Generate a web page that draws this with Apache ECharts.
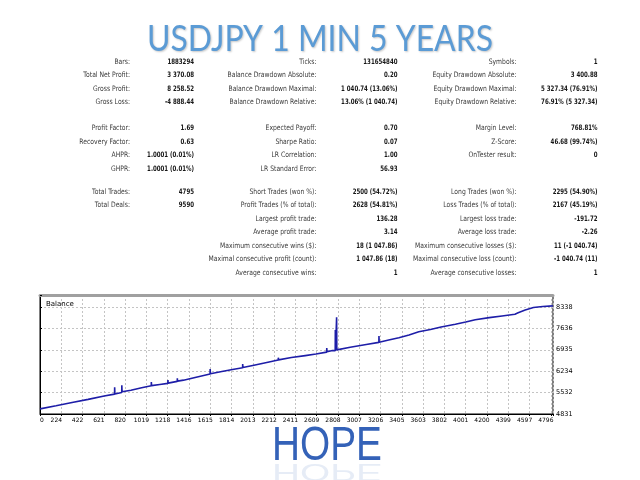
<!DOCTYPE html>
<html>
<head>
<meta charset="utf-8">
<script src="https://cdn.jsdelivr.net/npm/echarts@6/dist/echarts.min.js"></script>
<style>
  html, body { margin: 0; padding: 0; background: #fff; }
  #main { width: 640px; height: 480px; }
</style>
</head>
<body>
<div id="main"></div>
<script>
// 数据：交易序号与余额
var tradeNo = [0, 150, 300, 450, 600, 697, 698, 700, 764, 765, 767, 850, 950,
    1040, 1041, 1043, 1120, 1195, 1196, 1198, 1283, 1284, 1286, 1342, 1343, 1345,
    1450, 1590, 1591, 1593, 1700, 1800, 1894, 1895, 1897, 2000, 2120, 2135,
    2227, 2228, 2230, 2350, 2480, 2580, 2680, 2681, 2683, 2734, 2745,
    2760, 2761, 2763, 2772, 2773, 2775, 2900, 3050, 3168, 3169, 3171,
    3260, 3355, 3450, 3541, 3650, 3750, 3883, 3980, 4069, 4200, 4320,
    4440, 4470, 4536, 4613, 4700, 4795];
var balance = [5000, 5100, 5205, 5310, 5420, 5482, 5706, 5488, 5535, 5772, 5560, 5610, 5690,
    5755, 5880, 5762, 5800, 5835, 5945, 5842, 5900, 6000, 5908, 5940, 5990, 5945,
    6030, 6140, 6306, 6150, 6225, 6290, 6345, 6470, 6352, 6430, 6520, 6560,
    6600, 6676, 6606, 6680, 6745, 6795, 6858, 6994, 6868, 6912, 6905,
    6908, 7584, 6915, 6922, 8000, 6932, 7020, 7110, 7178, 7388, 7184,
    7255, 7330, 7420, 7525, 7600, 7680, 7770, 7845, 7920, 7990, 8045,
    8100, 8150, 8240, 8320, 8355, 8375];

// 坐标轴刻度
var xTickLabels = ['0', '224', '422', '621', '820', '1019', '1218', '1416', '1615', '1814',
    '2013', '2212', '2411', '2609', '2808', '3007', '3206', '3405', '3603', '3802',
    '4001', '4200', '4399', '4597', '4796'];
var xStep = 199;
var yTickLabels = ['4831', '5532', '6234', '6935', '7636', '8338'];
var yMin = 4831;
var yStep = 701.4;

// 报告表格 [行, 标签, 数值]
var col1 = [
    [0, 'Bars:', '1883294'],
    [1, 'Total Net Profit:', '3 370.08'],
    [2, 'Gross Profit:', '8 258.52'],
    [3, 'Gross Loss:', '-4 888.44'],
    [4, 'Profit Factor:', '1.69'],
    [5, 'Recovery Factor:', '0.63'],
    [6, 'AHPR:', '1.0001 (0.01%)'],
    [7, 'GHPR:', '1.0001 (0.01%)'],
    [8, 'Total Trades:', '4795'],
    [9, 'Total Deals:', '9590']
];
var col2 = [
    [0, 'Ticks:', '131654840'],
    [1, 'Balance Drawdown Absolute:', '0.20'],
    [2, 'Balance Drawdown Maximal:', '1 040.74 (13.06%)'],
    [3, 'Balance Drawdown Relative:', '13.06% (1 040.74)'],
    [4, 'Expected Payoff:', '0.70'],
    [5, 'Sharpe Ratio:', '0.07'],
    [6, 'LR Correlation:', '1.00'],
    [7, 'LR Standard Error:', '56.93'],
    [8, 'Short Trades (won %):', '2500 (54.72%)'],
    [9, 'Profit Trades (% of total):', '2628 (54.81%)'],
    [10, 'Largest profit trade:', '136.28'],
    [11, 'Average profit trade:', '3.14'],
    [12, 'Maximum consecutive wins ($):', '18 (1 047.86)'],
    [13, 'Maximal consecutive profit (count):', '1 047.86 (18)'],
    [14, 'Average consecutive wins:', '1']
];
var col3 = [
    [0, 'Symbols:', '1'],
    [1, 'Equity Drawdown Absolute:', '3 400.88'],
    [2, 'Equity Drawdown Maximal:', '5 327.34 (76.91%)'],
    [3, 'Equity Drawdown Relative:', '76.91% (5 327.34)'],
    [4, 'Margin Level:', '768.81%'],
    [5, 'Z-Score:', '46.68 (99.74%)'],
    [6, 'OnTester result:', '0'],
    [8, 'Long Trades (won %):', '2295 (54.90%)'],
    [9, 'Loss Trades (% of total):', '2167 (45.19%)'],
    [10, 'Largest loss trade:', '-191.72'],
    [11, 'Average loss trade:', '-2.26'],
    [12, 'Maximum consecutive losses ($):', '11 (-1 040.74)'],
    [13, 'Maximal consecutive loss (count):', '-1 040.74 (11)'],
    [14, 'Average consecutive losses:', '1']
];

// 布局
var rowY = [62, 75.5, 89, 102.5, 128.5, 142, 155.5, 169, 192, 205.5, 219, 232.5, 246, 259.5, 273];
var labelFont = 'normal 7.5px "DejaVu Sans"';
var valueFont = 'bold 7.5px "DejaVu Sans"';

function fitScale(text, font, width) {
    var ctx = document.createElement('canvas').getContext('2d');
    ctx.font = font;
    return width / ctx.measureText(text).width;
}
var labelScale = fitScale('Balance Drawdown Absolute:', labelFont, 89);
var valueScale = fitScale('1883294', valueFont, 26.6);

function textEl(x, y, text, font, color, scale, align) {
    return {
        type: 'text', x: x, y: y, scaleX: scale, silent: true,
        style: {
            text: text, font: font, fill: color,
            textAlign: align, textVerticalAlign: 'middle',
            align: align, verticalAlign: 'middle'
        }
    };
}

var graphics = [];
function addColumn(rows, labelX, valueX) {
    rows.forEach(function (r) {
        graphics.push(textEl(labelX, rowY[r[0]], r[1], labelFont, '#3a3a3a', labelScale, 'right'));
        graphics.push(textEl(valueX, rowY[r[0]], r[2], valueFont, '#151515', valueScale, 'right'));
    });
}
addColumn(col1, 130, 194);
addColumn(col2, 316.5, 397.5);
addColumn(col3, 516.5, 597.5);

// 标题
var titleText = 'USDJPY 1 MIN 5 YEARS';
var titleFont = 'normal 36px Lato';
graphics.push({
    type: 'text', x: 320, y: 39, silent: true,
    scaleX: fitScale(titleText, titleFont, 346),
    style: {
        text: titleText, font: titleFont, fill: '#5b9bd5',
        textAlign: 'center', textVerticalAlign: 'middle', align: 'center', verticalAlign: 'middle',
        textShadowColor: 'rgba(0,0,0,0.22)', textShadowBlur: 2, textShadowOffsetX: 1, textShadowOffsetY: 1
    }
});

// HOPE 及倒影
var hopeFont = 'normal 49px "Liberation Sans"';
var hopeScale = fitScale('HOPE', hopeFont, 110);
graphics.push({
    type: 'text', x: 327, y: 471, silent: true, scaleX: hopeScale,
    style: {
        text: 'HOPE', font: hopeFont, fill: '#3462b8',
        textAlign: 'center', textVerticalAlign: 'bottom', align: 'center', verticalAlign: 'bottom'
    }
});
graphics.push({
    type: 'text', x: 327, y: 459, silent: true, scaleX: hopeScale, scaleY: -0.5,
    style: {
        text: 'HOPE', font: hopeFont, fill: 'rgba(52,98,184,0.12)',
        textAlign: 'center', textVerticalAlign: 'bottom', align: 'center', verticalAlign: 'bottom'
    }
});

var myChart = echarts.init(document.getElementById('main'));
var option = {
    backgroundColor: '#fff',
    animation: false,
    title: {
        text: 'Balance',
        left: 41,
        top: 296,
        textStyle: { fontSize: 7, fontWeight: 'normal', color: '#000', fontFamily: 'DejaVu Sans' }
    },
    grid: {
        left: 40, right: 87, top: 295, bottom: 66,
        show: true, borderColor: '#000', borderWidth: 1, backgroundColor: '#fff'
    },
    xAxis: [{
        type: 'value',
        min: 0,
        max: 4796,
        interval: xStep,
        axisLine: { lineStyle: { color: '#000', width: 1 } },
        axisTick: { show: true, length: 2, lineStyle: { color: '#000' } },
        axisLabel: {
            fontSize: 6,
            color: '#000',
            margin: 3,
            fontFamily: 'DejaVu Sans',
            padding: [0, 10, 0, 0],
            rich: { z: { fontSize: 6, color: '#000', fontFamily: 'DejaVu Sans', padding: [0, 0, 0, 14] } },
            formatter: function (v) {
                var i = Math.round(v / xStep);
                if (Math.abs(v - i * xStep) > 0.5 || i >= xTickLabels.length) return '';
                return i === 0 ? '{z|' + xTickLabels[0] + '}' : xTickLabels[i];
            }
        },
        splitLine: { show: true, lineStyle: { color: '#c4c4c4', type: [2, 2] } }
    }, {
        type: 'value',
        position: 'top',
        min: 0,
        max: 4796,
        axisLine: { show: true, lineStyle: { color: '#a0a0a0', width: 3 } },
        axisTick: { show: false },
        axisLabel: { show: false },
        splitLine: { show: false }
    }],
    yAxis: {
        type: 'value',
        position: 'right',
        min: yMin,
        max: 8731,
        interval: yStep,
        axisLine: { show: true, lineStyle: { color: '#000', width: 1 } },
        axisTick: { show: true, length: 2, lineStyle: { color: '#000' } },
        axisLabel: {
            fontSize: 6.5,
            color: '#000',
            margin: 3,
            fontFamily: 'DejaVu Sans',
            formatter: function (v) {
                var i = Math.round((v - yMin) / yStep);
                if (Math.abs(v - (yMin + i * yStep)) > 1 || i >= yTickLabels.length) return '';
                return yTickLabels[i];
            }
        },
        splitLine: { show: true, lineStyle: { color: '#c4c4c4', type: [2, 2] } }
    },
    series: [{
        name: 'Balance',
        type: 'line',
        showSymbol: false,
        data: tradeNo.map(function (t, i) { return [t, balance[i]]; }),
        lineStyle: { color: '#1e1ea8', width: 1.6 },
        itemStyle: { color: '#1e1ea8' }
    }],
    graphic: { elements: graphics }
};
myChart.setOption(option);
</script>
</body>
</html>
